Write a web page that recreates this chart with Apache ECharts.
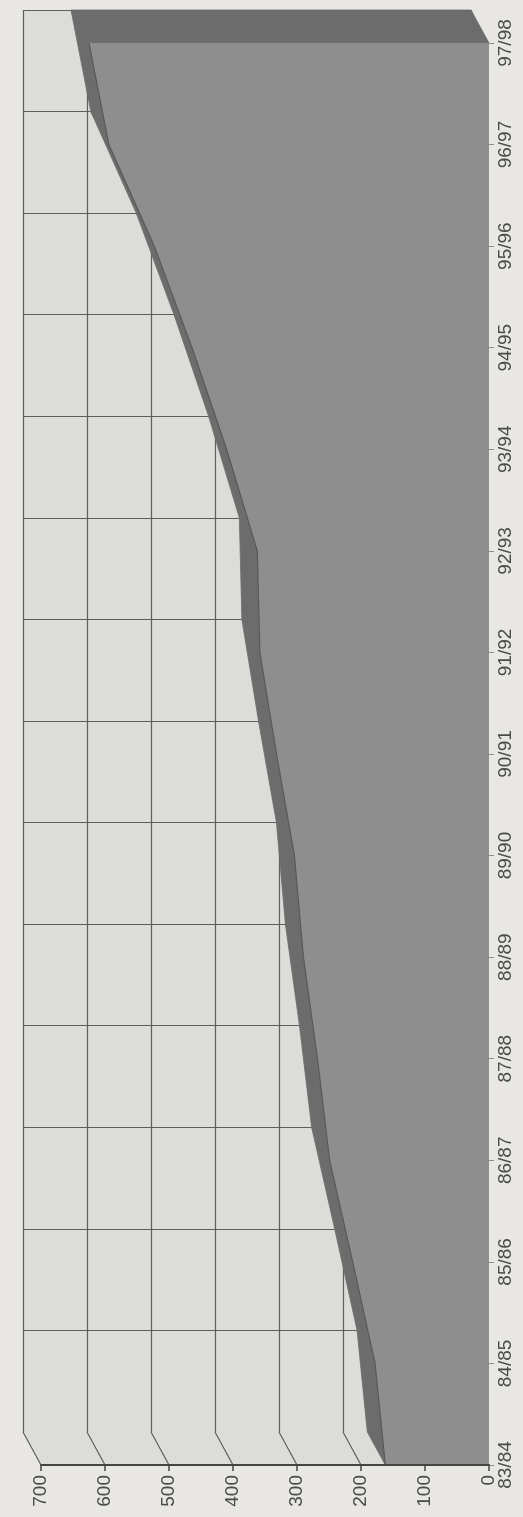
<!DOCTYPE html>
<html>
<head>
<meta charset="utf-8">
<script src="https://cdn.jsdelivr.net/npm/echarts@6/dist/echarts.min.js"></script>
<style>
  html, body { margin: 0; padding: 0; background: #e8e7e3; }
  #chart { width: 523px; height: 1517px; }
</style>
</head>
<body>
<div id="chart"></div>
<script>
// Seasons along the category axis and the yearly totals
const seasons = ['83/84', '84/85', '85/86', '86/87', '87/88', '88/89', '89/90', '90/91',
                 '91/92', '92/93', '93/94', '94/95', '95/96', '96/97', '97/98'];
const totals = [162, 178, 213, 249, 268, 290, 304, 332, 358, 362, 410, 464, 523, 594, 625];
const valueTicks = [0, 100, 200, 300, 400, 500, 600, 700];

// Pixel offset of the back plane relative to the front plane (3D depth)
const DEPTH = [-18, -33];
const FRONT = { left: 41, right: 34, top: 43, bottom: 52 };
const BACK = {
  left: FRONT.left + DEPTH[0],
  right: FRONT.right - DEPTH[0],
  top: FRONT.top + DEPTH[1],
  bottom: FRONT.bottom - DEPTH[1]
};

const WALL = '#dcdcd8';
const GRIDLINE = '#5e5e5e';
const FACE = '#8e8e8e';
const TOP = '#6c6c6c';
const INK = '#4a4a4a';
const FONT = 'Liberation Sans, Arial, sans-serif';

const shift = p => [p[0] + DEPTH[0], p[1] + DEPTH[1]];

const chart = echarts.init(document.getElementById('chart'));

chart.setOption({
  backgroundColor: '#e8e7e3',
  animation: false,
  grid: [
    Object.assign({ show: true, backgroundColor: WALL, borderWidth: 0 }, BACK),
    Object.assign({ show: false }, FRONT)
  ],
  xAxis: [
    {
      gridIndex: 0, type: 'value', min: 0, max: 700, interval: 100, inverse: true,
      axisLine: { show: false }, axisTick: { show: false }, axisLabel: { show: false },
      splitLine: { show: true, lineStyle: { color: GRIDLINE, width: 1.2 } }
    },
    {
      gridIndex: 1, type: 'value', min: 0, max: 700, interval: 100, inverse: true,
      position: 'bottom', z: 10,
      axisLine: { show: true, onZero: false, lineStyle: { color: '#444', width: 2 } },
      axisTick: { show: true, length: 6, lineStyle: { color: '#444', width: 1.5 } },
      axisLabel: { rotate: 90, fontSize: 19, color: INK, margin: 10, fontFamily: FONT },
      splitLine: { show: false }
    }
  ],
  yAxis: [
    {
      gridIndex: 0, type: 'category', data: seasons, boundaryGap: false,
      axisLine: { show: false }, axisTick: { show: false }, axisLabel: { show: false },
      splitLine: { show: true, interval: 0, lineStyle: { color: GRIDLINE, width: 1.2 } }
    },
    {
      gridIndex: 1, type: 'category', data: seasons, boundaryGap: false, position: 'right', z: 10,
      axisLine: { show: false },
      axisTick: { show: true, interval: 0, length: 5, lineStyle: { color: '#8c8c8c', width: 1 } },
      axisLabel: { interval: 0, rotate: 90, fontSize: 19, color: INK, margin: 7, fontFamily: FONT },
      splitLine: { show: false }
    }
  ],
  series: [
    {
      // floor strip between back wall and front edge, with a depth line at each tick
      name: 'floor', type: 'custom', xAxisIndex: 1, yAxisIndex: 1, z: 2, clip: false, silent: true,
      data: valueTicks.map(v => [v, 0]),
      renderItem: function (params, api) {
        const front = api.coord([api.value(0), 0]);
        const back = shift(front);
        const children = [];
        if (params.dataIndex === 0) {
          const a = api.coord([valueTicks[0], 0]);
          const b = api.coord([valueTicks[valueTicks.length - 1], 0]);
          children.push({
            type: 'polygon',
            shape: { points: [a, b, shift(b), shift(a)] },
            style: { fill: WALL }
          });
        }
        children.push({
          type: 'line',
          shape: { x1: back[0], y1: back[1], x2: front[0], y2: front[1] },
          style: { stroke: GRIDLINE, lineWidth: 1.2 }
        });
        return { type: 'group', children: children };
      }
    },
    {
      // top surface of the area (depth band) and the end cap
      name: 'depth', type: 'custom', xAxisIndex: 1, yAxisIndex: 1, z: 3, clip: false, silent: true,
      data: totals.map((v, i) => [v, i]),
      renderItem: function (params, api) {
        const i = params.dataIndex;
        const p = api.coord([api.value(0), i]);
        let pts;
        if (i < totals.length - 1) {
          const q = api.coord([totals[i + 1], i + 1]);
          pts = [p, q, shift(q), shift(p)];
        } else {
          const z = api.coord([0, i]);
          pts = [p, shift(p), shift(z), z];
        }
        return {
          type: 'polygon',
          shape: { points: pts },
          style: { fill: TOP, stroke: TOP, lineWidth: 0.8 }
        };
      }
    },
    {
      // front face of the area
      name: 'total', type: 'line', xAxisIndex: 1, yAxisIndex: 1, z: 4,
      data: totals.map((v, i) => [v, i]),
      encode: { x: 0, y: 1 },
      symbol: 'none',
      lineStyle: { color: '#585858', width: 1.2 },
      areaStyle: { color: FACE, opacity: 1 }
    }
  ]
});
</script>
</body>
</html>
